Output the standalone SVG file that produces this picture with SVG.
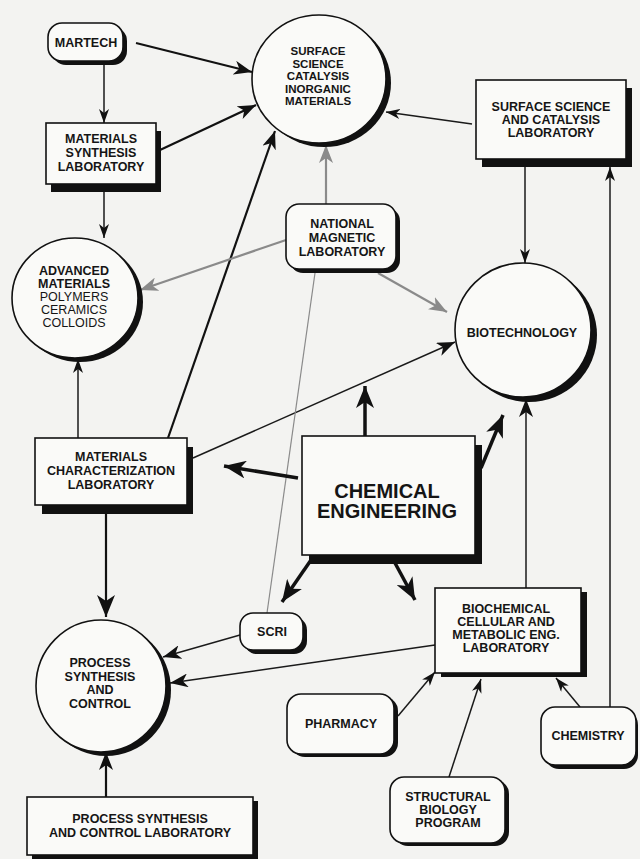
<svg xmlns="http://www.w3.org/2000/svg" width="640" height="859" viewBox="0 0 640 859">
<defs>
<style>
.bg{fill:#f3f3f1}
.box{fill:#fafaf8;stroke:#111;stroke-width:1.6}
.sh{fill:#111}
.t{font-family:"Liberation Sans",Arial,sans-serif;font-weight:bold;font-size:12.5px;fill:#151515;text-anchor:middle}
.ts{font-size:11.5px}
.tn{font-weight:normal}
.big{font-size:20px}
.ln{fill:none;stroke:#1a1a1a;stroke-width:1.5}
.lt{fill:none;stroke:#111;stroke-width:2.2}
.lx{fill:none;stroke:#111;stroke-width:3.5}
.lg{fill:none;stroke:#8a8a8a;stroke-width:2.2}
.lf{fill:none;stroke:#8a8a8a;stroke-width:1.2}
</style>
<marker id="ah" viewBox="0 0 14 10" refX="14" refY="5" markerWidth="14" markerHeight="10" markerUnits="userSpaceOnUse" orient="auto"><path d="M0,0 L14,5 L0,10 L4,5 z" fill="#111"/></marker>
<marker id="ahm" viewBox="0 0 18 14" refX="18" refY="7" markerWidth="18" markerHeight="14" markerUnits="userSpaceOnUse" orient="auto"><path d="M0,0 L18,7 L0,14 L5,7 z" fill="#111"/></marker>
<marker id="ahL" viewBox="0 0 22 18" refX="22" refY="9" markerWidth="22" markerHeight="18" markerUnits="userSpaceOnUse" orient="auto"><path d="M0,0 L22,9 L0,18 L6,9 z" fill="#111"/></marker>
<marker id="ahg" viewBox="0 0 18 14" refX="18" refY="7" markerWidth="18" markerHeight="14" markerUnits="userSpaceOnUse" orient="auto"><path d="M0,0 L18,7 L0,14 L5,7 z" fill="#8a8a8a"/></marker>
</defs>
<rect class="bg" x="0" y="0" width="640" height="859"/>

<g id="connectors">
<line class="lt" x1="136" y1="43" x2="252" y2="72" marker-end="url(#ahm)"/>
<line class="ln" x1="104" y1="62" x2="104" y2="123" marker-end="url(#ah)"/>
<line class="lt" x1="160" y1="150" x2="256" y2="105" marker-end="url(#ahm)"/>
<line class="ln" x1="104" y1="192" x2="104" y2="238" marker-end="url(#ah)"/>
<line class="lt" x1="168" y1="438" x2="275" y2="131" marker-end="url(#ahm)"/>
<line class="ln" x1="78" y1="438" x2="78" y2="359" marker-end="url(#ah)"/>
<line class="ln" x1="193" y1="458" x2="455" y2="342" marker-end="url(#ahm)"/>
<line class="lg" x1="326" y1="204" x2="326" y2="145" marker-end="url(#ahg)"/>
<line class="lg" x1="286" y1="240" x2="140" y2="290" marker-end="url(#ahg)"/>
<line class="lg" x1="378" y1="273" x2="447" y2="312" marker-end="url(#ahg)"/>
<line class="lf" x1="315" y1="273" x2="267" y2="613"/>
<line class="ln" x1="472" y1="124" x2="386" y2="112" marker-end="url(#ah)"/>
<line class="ln" x1="525" y1="167" x2="525" y2="263" marker-end="url(#ah)"/>
<line class="ln" x1="610" y1="707" x2="610" y2="167" marker-end="url(#ah)"/>
<line class="lx" x1="365" y1="436" x2="365" y2="386" marker-end="url(#ahL)"/>
<line class="lx" x1="298" y1="478" x2="224" y2="466" marker-end="url(#ahL)"/>
<line class="lx" x1="481" y1="468" x2="503" y2="415" marker-end="url(#ahL)"/>
<line class="lx" x1="311" y1="560" x2="282" y2="602" marker-end="url(#ahL)"/>
<line class="lx" x1="395" y1="563" x2="415" y2="600" marker-end="url(#ahL)"/>
<line class="ln" x1="526" y1="588" x2="526" y2="399" marker-end="url(#ahm)"/>
<line class="lt" x1="106" y1="514" x2="106" y2="617" marker-end="url(#ahL)"/>
<line class="ln" x1="240" y1="635" x2="163" y2="657" marker-end="url(#ahm)"/>
<line class="ln" x1="435" y1="645" x2="170" y2="683" marker-end="url(#ahm)"/>
<line class="lt" x1="106" y1="797" x2="106" y2="752" marker-end="url(#ahm)"/>
<line class="ln" x1="398" y1="716" x2="435" y2="672" marker-end="url(#ah)"/>
<line class="ln" x1="449" y1="777" x2="481" y2="679" marker-end="url(#ah)"/>
<line class="ln" x1="580" y1="707" x2="556" y2="678" marker-end="url(#ah)"/>
</g>

<g id="martech">
<rect class="sh" x="52" y="27" width="75" height="38" rx="14"/>
<rect class="box" x="48" y="23" width="75" height="38" rx="14"/>
<text class="t" x="86" y="47">MARTECH</text>
</g>

<g id="materials-synthesis-lab">
<rect class="sh" x="51" y="131" width="110" height="61"/>
<rect class="box" x="46" y="123" width="110" height="61"/>
<text class="t" x="101" y="143">MATERIALS</text>
<text class="t" x="101" y="157">SYNTHESIS</text>
<text class="t" x="101" y="171">LABORATORY</text>
</g>

<g id="surface-science-circle">
<ellipse class="sh" cx="324" cy="83" rx="67" ry="64"/>
<ellipse class="box" cx="319" cy="79" rx="67" ry="64"/>
<text class="t ts" x="318" y="55">SURFACE</text>
<text class="t ts" x="318" y="67.5">SCIENCE</text>
<text class="t ts" x="318" y="80">CATALYSIS</text>
<text class="t ts" x="318" y="92.5">INORGANIC</text>
<text class="t ts" x="318" y="105">MATERIALS</text>
</g>

<g id="surface-science-lab">
<rect class="sh" x="482" y="88" width="150" height="79"/>
<rect class="box" x="476" y="80" width="150" height="79"/>
<text class="t" x="551" y="111">SURFACE SCIENCE</text>
<text class="t" x="551" y="124">AND CATALYSIS</text>
<text class="t" x="551" y="137">LABORATORY</text>
</g>

<g id="national-magnetic-lab">
<rect class="sh" x="290" y="208" width="110" height="65" rx="13"/>
<rect class="box" x="286" y="204" width="110" height="65" rx="13"/>
<text class="t" x="342" y="228">NATIONAL</text>
<text class="t" x="342" y="242">MAGNETIC</text>
<text class="t" x="342" y="256">LABORATORY</text>
</g>

<g id="advanced-materials">
<ellipse class="sh" cx="80" cy="302" rx="63" ry="60"/>
<ellipse class="box" cx="75" cy="298" rx="63" ry="60"/>
<text class="t" x="74" y="275">ADVANCED</text>
<text class="t" x="74" y="288">MATERIALS</text>
<text class="t tn" x="74" y="301">POLYMERS</text>
<text class="t tn" x="74" y="314">CERAMICS</text>
<text class="t tn" x="74" y="327">COLLOIDS</text>
</g>

<g id="biotechnology">
<ellipse class="sh" cx="529" cy="335" rx="68" ry="67"/>
<ellipse class="box" cx="523" cy="330" rx="68" ry="67"/>
<text class="t" x="522" y="337">BIOTECHNOLOGY</text>
</g>

<g id="materials-characterization-lab">
<rect class="sh" x="42" y="447" width="151" height="67"/>
<rect class="box" x="35" y="438" width="152" height="67"/>
<text class="t" x="111" y="461">MATERIALS</text>
<text class="t" x="111" y="475">CHARACTERIZATION</text>
<text class="t" x="111" y="489">LABORATORY</text>
</g>

<g id="chemical-engineering">
<rect class="sh" x="309" y="445" width="173" height="119"/>
<rect class="box" x="302" y="436" width="173" height="119"/>
<text class="t big" x="387" y="498">CHEMICAL</text>
<text class="t big" x="387" y="518">ENGINEERING</text>
</g>

<g id="scri">
<rect class="sh" x="244" y="617" width="63" height="37" rx="13"/>
<rect class="box" x="240" y="613" width="63" height="37" rx="13"/>
<text class="t" x="272" y="636">SCRI</text>
</g>

<g id="biochemical-lab">
<rect class="sh" x="441" y="592" width="146" height="85"/>
<rect class="box" x="435" y="588" width="146" height="85"/>
<text class="t" x="506" y="613">BIOCHEMICAL</text>
<text class="t" x="506" y="626">CELLULAR AND</text>
<text class="t" x="506" y="639">METABOLIC ENG.</text>
<text class="t" x="506" y="652">LABORATORY</text>
</g>

<g id="process-synthesis-control">
<ellipse class="sh" cx="106" cy="690" rx="65" ry="66"/>
<ellipse class="box" cx="101" cy="686" rx="65" ry="66"/>
<text class="t" x="100" y="667">PROCESS</text>
<text class="t" x="100" y="681">SYNTHESIS</text>
<text class="t" x="100" y="694">AND</text>
<text class="t" x="100" y="708">CONTROL</text>
</g>

<g id="process-synthesis-lab">
<rect class="sh" x="32" y="801" width="226" height="58"/>
<rect class="box" x="27" y="797" width="226" height="58"/>
<text class="t" x="140" y="823">PROCESS SYNTHESIS</text>
<text class="t" x="140" y="837">AND CONTROL LABORATORY</text>
</g>

<g id="pharmacy">
<rect class="sh" x="291" y="697" width="107" height="60" rx="14"/>
<rect class="box" x="287" y="694" width="107" height="60" rx="14"/>
<text class="t" x="341" y="728">PHARMACY</text>
</g>

<g id="structural-biology">
<rect class="sh" x="394" y="780" width="115" height="66" rx="14"/>
<rect class="box" x="390" y="777" width="115" height="66" rx="14"/>
<text class="t" x="448" y="801">STRUCTURAL</text>
<text class="t" x="448" y="814">BIOLOGY</text>
<text class="t" x="448" y="827">PROGRAM</text>
</g>

<g id="chemistry">
<rect class="sh" x="545" y="711" width="93" height="58" rx="14"/>
<rect class="box" x="541" y="707" width="95" height="58" rx="14"/>
<text class="t" x="588" y="740">CHEMISTRY</text>
</g>
</svg>
